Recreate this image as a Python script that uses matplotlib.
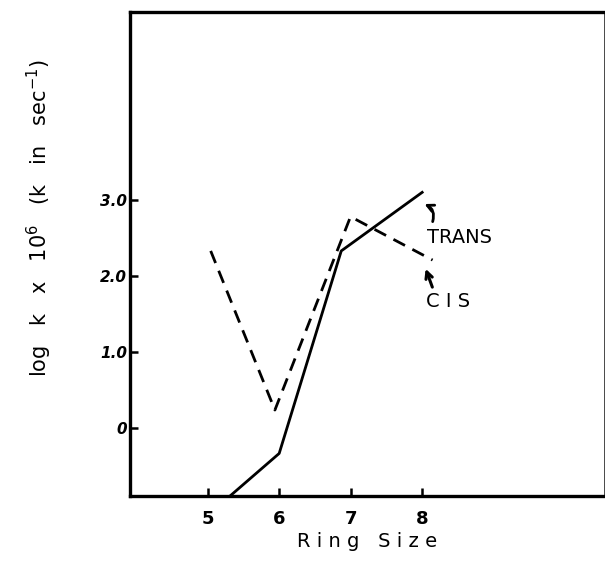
import matplotlib
matplotlib.use("Agg")
import matplotlib.pyplot as plt

# ring size vs. log k for the two isomers
trans_ring = [5.31, 6.0, 6.87, 8.02]
trans_logk = [-0.89, -0.33, 2.33, 3.11]

cis_ring = [5.04, 5.94, 7.0, 8.15]
cis_logk = [2.33, 0.24, 2.78, 2.21]

x_ticks = [5, 6, 7, 8]
y_ticks = [0, 1, 2, 3]
y_ticklabels = ["0", "1.0", "2.0", "3.0"]

fig = plt.figure(figsize=(6.05, 5.65), dpi=100)
ax = fig.add_axes([0.215, 0.122, 0.783, 0.857])

ax.plot(trans_ring, trans_logk, color="black", lw=2.0, solid_capstyle="butt")
ax.plot(cis_ring, cis_logk, color="black", lw=2.0, dashes=(4.7, 3))

ax.set_xlim(3.91, 10.55)
ax.set_ylim(-0.89, 5.47)

ax.set_xticks(x_ticks)
ax.set_xticklabels([str(v) for v in x_ticks], fontsize=13, fontweight="bold")
ax.set_yticks(y_ticks)
ax.set_yticklabels(y_ticklabels, fontsize=11, fontweight="bold", style="italic")
ax.tick_params(axis="x", direction="in", length=6, width=1.8, pad=10)
ax.tick_params(axis="y", direction="in", length=6, width=1.8, pad=2)

for side in ["left", "top", "bottom"]:
    ax.spines[side].set_linewidth(2.4)
ax.spines["right"].set_linewidth(0.5)

ax.set_xlabel("R i n g   S i z e", fontsize=14, labelpad=3)
fig.text(0.065, 0.614, r"log   k   x   10$^6$   (k   in   sec$^{-1}$)", rotation=90,
         fontsize=15, ha="center", va="center")

# curve labels with arrows
ax.text(8.07, 2.50, "TRANS", fontsize=14, ha="left", va="center")
ax.annotate("", xy=(8.0, 2.96), xytext=(8.14, 2.68),
            arrowprops=dict(arrowstyle="->", color="black", lw=2.0,
                            connectionstyle="arc3,rad=0.5", mutation_scale=12))
ax.text(8.06, 1.66, "C I S", fontsize=14, ha="left", va="center")
ax.annotate("", xy=(8.04, 2.13), xytext=(8.16, 1.82),
            arrowprops=dict(arrowstyle="->", color="black", lw=2.2,
                            mutation_scale=12))

fig.savefig("out.png", dpi=100)
